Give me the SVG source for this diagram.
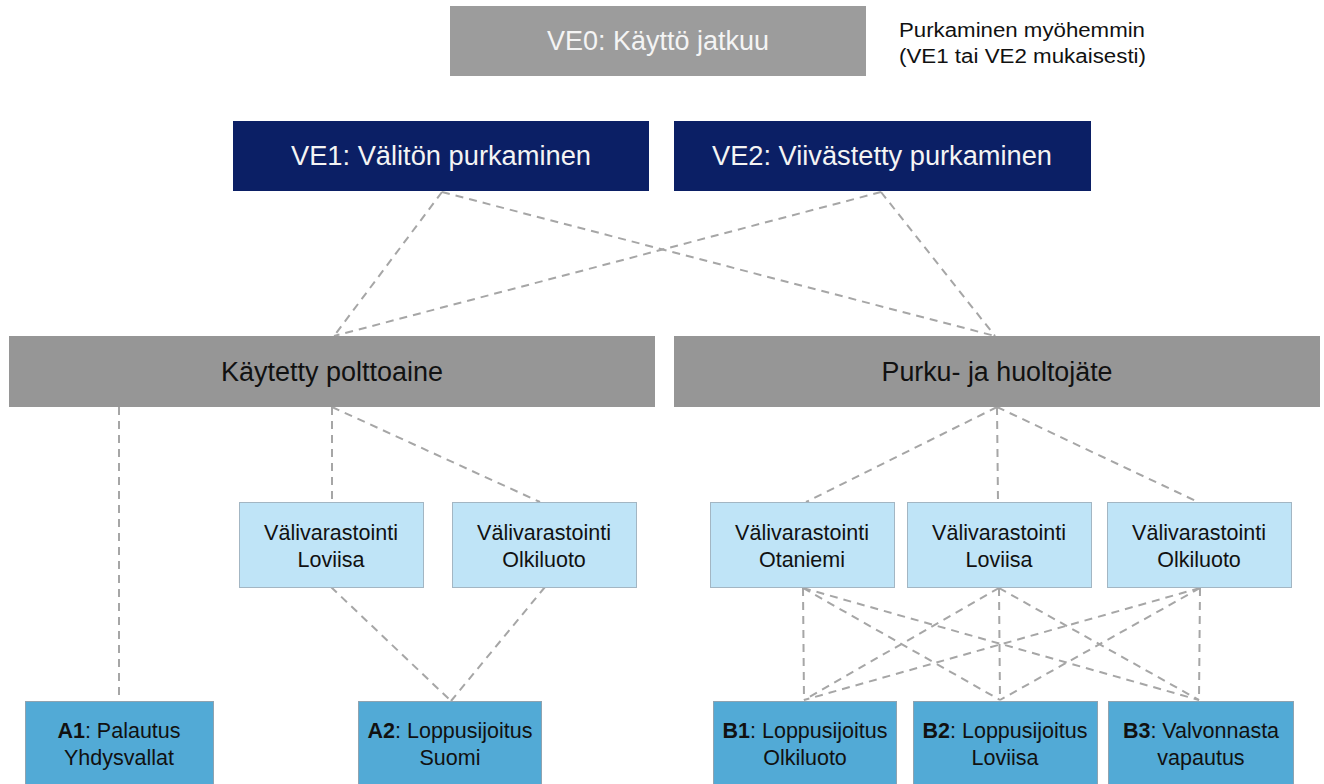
<svg xmlns="http://www.w3.org/2000/svg" width="1324" height="784" viewBox="0 0 1324 784">
<style>
  text { font-family: "Liberation Sans", Arial, sans-serif; text-anchor: middle; }
  .big { font-size: 27px; }
  .top { fill: #9c9c9c; }
  .navy { fill: #0b1f65; }
  .cat { fill: #969696; }
  .store { fill: #bfe4f7; stroke: #a3b6c3; stroke-width: 1; }
  .final { fill: #52aad6; stroke: #8fa3b0; stroke-width: 1; }
  .wt { fill: #f4f4f4; }
  .dk { fill: #111111; }
  .sm { font-size: 21.5px; fill: #111111; }
  .side { font-size: 20px; fill: #111111; text-anchor: start; }
  .b { font-weight: bold; }
  .con line { stroke: #a6a6a6; stroke-width: 2; stroke-dasharray: 8 6; fill: none; }
</style>
<rect width="1324" height="784" fill="#ffffff"/>

<g id="connectors" class="con">
  <line x1="442" y1="192" x2="334" y2="336"/>
  <line x1="442" y1="192" x2="995" y2="336"/>
  <line x1="881" y1="192" x2="334" y2="336"/>
  <line x1="881" y1="192" x2="995" y2="336"/>
  <line x1="119" y1="407" x2="119" y2="701"/>
  <line x1="332" y1="407" x2="332" y2="502"/>
  <line x1="332" y1="407" x2="540" y2="502"/>
  <line x1="331" y1="587" x2="451" y2="701"/>
  <line x1="545" y1="587" x2="451" y2="701"/>
  <line x1="997" y1="407" x2="806" y2="502"/>
  <line x1="997" y1="407" x2="998" y2="502"/>
  <line x1="997" y1="407" x2="1198" y2="502"/>
  <line x1="803" y1="588" x2="804" y2="700"/>
  <line x1="803" y1="588" x2="1000" y2="700"/>
  <line x1="803" y1="588" x2="1199" y2="700"/>
  <line x1="999" y1="588" x2="804" y2="700"/>
  <line x1="999" y1="588" x2="1000" y2="700"/>
  <line x1="999" y1="588" x2="1199" y2="700"/>
  <line x1="1200" y1="588" x2="804" y2="700"/>
  <line x1="1200" y1="588" x2="1000" y2="700"/>
  <line x1="1200" y1="588" x2="1199" y2="700"/>
</g>

<g id="ve0">
  <rect class="top" x="450" y="6" width="416" height="70"/>
  <text class="big wt" x="658" y="50" textLength="222" lengthAdjust="spacingAndGlyphs">VE0: Käyttö jatkuu</text>
</g>
<g id="note">
  <text class="side" x="899" y="37" textLength="246" lengthAdjust="spacingAndGlyphs">Purkaminen myöhemmin</text>
  <text class="side" x="899" y="63" textLength="247" lengthAdjust="spacingAndGlyphs">(VE1 tai VE2 mukaisesti)</text>
</g>
<g id="ve1">
  <rect class="navy" x="233" y="121" width="416" height="70"/>
  <text class="big wt" x="441" y="165" textLength="300" lengthAdjust="spacingAndGlyphs">VE1: Välitön purkaminen</text>
</g>
<g id="ve2">
  <rect class="navy" x="674" y="121" width="417" height="70"/>
  <text class="big wt" x="882" y="165" textLength="340" lengthAdjust="spacingAndGlyphs">VE2: Viivästetty purkaminen</text>
</g>
<g id="kaytetty">
  <rect class="cat" x="9" y="336" width="646" height="71"/>
  <text class="big dk" x="332" y="381" textLength="222" lengthAdjust="spacingAndGlyphs">Käytetty polttoaine</text>
</g>
<g id="purku">
  <rect class="cat" x="674" y="336" width="646" height="71"/>
  <text class="big dk" x="997" y="381" textLength="231" lengthAdjust="spacingAndGlyphs">Purku- ja huoltojäte</text>
</g>

<g id="vl-loviisa">
  <rect class="store" x="239.5" y="502.5" width="184" height="85"/>
  <text class="sm" x="331" y="540">Välivarastointi</text>
  <text class="sm" x="331" y="567">Loviisa</text>
</g>
<g id="vl-olkiluoto">
  <rect class="store" x="452.5" y="502.5" width="184" height="85"/>
  <text class="sm" x="544" y="540">Välivarastointi</text>
  <text class="sm" x="544" y="567">Olkiluoto</text>
</g>
<g id="vr-otaniemi">
  <rect class="store" x="710.5" y="502.5" width="184" height="85"/>
  <text class="sm" x="802" y="540">Välivarastointi</text>
  <text class="sm" x="802" y="567">Otaniemi</text>
</g>
<g id="vr-loviisa">
  <rect class="store" x="907.5" y="502.5" width="184" height="85"/>
  <text class="sm" x="999" y="540">Välivarastointi</text>
  <text class="sm" x="999" y="567">Loviisa</text>
</g>
<g id="vr-olkiluoto">
  <rect class="store" x="1107.5" y="502.5" width="184" height="85"/>
  <text class="sm" x="1199" y="540">Välivarastointi</text>
  <text class="sm" x="1199" y="567">Olkiluoto</text>
</g>

<g id="a1">
  <rect class="final" x="25.5" y="701.5" width="188" height="90"/>
  <text class="sm" x="119" y="738"><tspan class="b">A1</tspan>: Palautus</text>
  <text class="sm" x="119" y="765">Yhdysvallat</text>
</g>
<g id="a2">
  <rect class="final" x="358.5" y="701.5" width="183" height="90"/>
  <text class="sm" x="450" y="738"><tspan class="b">A2</tspan>: Loppusijoitus</text>
  <text class="sm" x="450" y="765">Suomi</text>
</g>
<g id="b1">
  <rect class="final" x="713.5" y="701.5" width="183" height="90"/>
  <text class="sm" x="805" y="738"><tspan class="b">B1</tspan>: Loppusijoitus</text>
  <text class="sm" x="805" y="765">Olkiluoto</text>
</g>
<g id="b2">
  <rect class="final" x="913.5" y="701.5" width="184" height="90"/>
  <text class="sm" x="1005" y="738"><tspan class="b">B2</tspan>: Loppusijoitus</text>
  <text class="sm" x="1005" y="765">Loviisa</text>
</g>
<g id="b3">
  <rect class="final" x="1108.5" y="701.5" width="185" height="90"/>
  <text class="sm" x="1201" y="738"><tspan class="b">B3</tspan>: Valvonnasta</text>
  <text class="sm" x="1201" y="765">vapautus</text>
</g>
</svg>
